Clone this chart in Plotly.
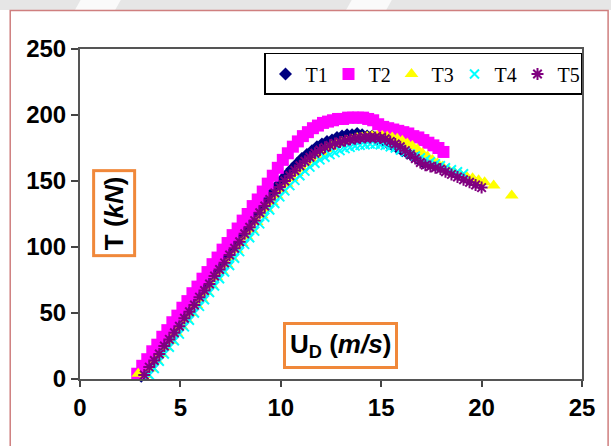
import plotly.graph_objects as go

# Tension T (kN) against velocity U_D (m/s) for five test runs
u_t1 = [3.05, 3.3, 3.55, 3.8, 4.05, 4.3, 4.55, 4.8, 5.05, 5.3, 5.55, 5.8, 6.05, 6.3, 6.55, 6.8,
        7.05, 7.3, 7.55, 7.8, 8.05, 8.3, 8.55, 8.8, 9.05, 9.3, 9.55, 9.8, 10.05, 10.3, 10.55, 10.8,
        11.05, 11.3, 11.55, 11.8, 12.05, 12.3, 12.55, 12.8, 13.05, 13.3, 13.55, 13.8, 14.05, 14.3,
        14.55, 14.8, 15.05, 15.3, 15.55, 15.8, 16.05, 16.3, 16.55, 16.8, 17.1]
t_t1 = [2, 8, 13, 18, 24, 29, 34, 40, 45, 51, 56, 61, 67, 72, 77, 83,
        88, 94, 99, 104, 110, 115, 120, 126, 131, 137, 141, 146, 151, 155, 159, 163,
        167, 170, 173, 176, 178, 180, 181, 183, 184, 185, 185, 186, 185, 184,
        184, 182, 181, 179, 177, 175, 173, 171, 169, 167, 164]

u_t2 = [2.85, 3.1, 3.35, 3.6, 3.85, 4.1, 4.35, 4.6, 4.85, 5.1, 5.35, 5.6, 5.85, 6.1, 6.35, 6.6,
        6.85, 7.1, 7.35, 7.6, 7.85, 8.1, 8.35, 8.6, 8.85, 9.1, 9.35, 9.6, 9.85, 10.1, 10.35, 10.6,
        10.85, 11.1, 11.35, 11.6, 11.85, 12.1, 12.35, 12.6, 12.85, 13.1, 13.35, 13.6, 13.85, 14.1,
        14.35, 14.6, 14.85, 15.1, 15.35, 15.6, 15.85, 16.1, 16.35, 16.6, 16.85, 17.1, 17.35, 17.6,
        17.85, 18.1]
t_t2 = [4, 10, 15, 21, 26, 32, 37, 43, 48, 54, 59, 65, 70, 76, 81, 87,
        92, 98, 103, 109, 114, 120, 125, 131, 136, 142, 148, 154, 160, 166, 171, 176,
        180, 184, 187, 190, 192, 194, 195, 196, 197, 197, 198, 198, 198, 198,
        197, 196, 193, 191, 190, 189, 188, 187, 186, 184, 183, 181, 179, 177,
        175, 172]

u_t3 = [2.9, 3.3, 3.55, 3.8, 4.05, 4.3, 4.55, 4.8, 5.05, 5.3, 5.55, 5.8, 6.05, 6.3, 6.55, 6.8,
        7.05, 7.3, 7.55, 7.8, 8.05, 8.3, 8.55, 8.8, 9.05, 9.3, 9.55, 9.8, 10.05, 10.3, 10.55, 10.8,
        11.05, 11.3, 11.55, 11.8, 12.05, 12.3, 12.55, 12.8, 13.05, 13.3, 13.55, 13.8, 14.05, 14.3,
        14.55, 14.8, 15.05, 15.3, 15.55, 15.8, 16.05, 16.3, 16.55, 16.8, 17.05, 17.3, 17.55, 17.8,
        18.05, 18.35, 18.65, 18.95, 19.25, 19.55, 19.85, 20.15, 20.6, 21.5]
t_t3 = [4, 3, 8, 14, 19, 24, 29, 35, 40, 45, 50, 56, 61, 66, 71, 77,
        82, 87, 92, 98, 103, 108, 113, 119, 124, 129, 134, 139, 143.5, 148, 152, 156,
        159.5, 163, 166, 169, 171.5, 174, 176, 178, 179.5, 180.5, 181.5, 182.5, 183, 183.5,
        184, 184, 184, 183.5, 183, 182, 180.5, 178.5, 176.5, 174, 171, 168.5, 166, 163.5,
        161, 158.5, 156.5, 155, 153.5, 152, 150.5, 149, 146.5, 139]

u_t4 = [3.45, 3.7, 3.95, 4.2, 4.45, 4.7, 4.95, 5.2, 5.45, 5.7, 5.95, 6.2, 6.45, 6.7, 6.95, 7.2,
        7.45, 7.7, 7.95, 8.2, 8.45, 8.7, 8.95, 9.2, 9.45, 9.7, 9.95, 10.2, 10.45, 10.7, 10.95, 11.2,
        11.45, 11.7, 11.95, 12.2, 12.45, 12.7, 12.95, 13.2, 13.45, 13.7, 13.95, 14.2, 14.45, 14.7,
        14.95, 15.2, 15.45, 15.7, 15.95, 16.2, 16.45, 16.7, 16.95, 17.2, 17.45, 17.7, 17.95, 18.2,
        18.5, 18.8, 19.1]
t_t4 = [3, 8, 13.5, 19, 24, 29, 34, 39.5, 44.5, 50, 55, 60, 65.5, 70.5, 76, 81,
        86, 91.5, 96.5, 102, 107, 112, 117.5, 122.5, 128, 133, 138, 142.5, 146.5, 150.5, 154, 157.5,
        160.5, 163.5, 166, 168, 170, 171.5, 173, 174.5, 175.5, 176.5, 177, 177.5, 178, 178,
        177.5, 177, 176, 175, 173.5, 172, 170.5, 169, 167.5, 166, 164.5, 163, 161.5, 160,
        158.5, 157, 155.5]

u_t5 = [3.2, 3.45, 3.7, 3.95, 4.2, 4.45, 4.7, 4.95, 5.2, 5.45, 5.7, 5.95, 6.2, 6.45, 6.7, 6.95,
        7.2, 7.45, 7.7, 7.95, 8.2, 8.45, 8.7, 8.95, 9.2, 9.45, 9.7, 9.95, 10.2, 10.45, 10.7, 10.95,
        11.2, 11.45, 11.7, 11.95, 12.2, 12.45, 12.7, 12.95, 13.2, 13.45, 13.7, 13.95, 14.2, 14.45,
        14.7, 14.95, 15.2, 15.45, 15.7, 15.95, 16.2, 16.45, 16.7, 16.95, 17.2, 17.45, 17.7, 17.95,
        18.2, 18.5, 18.8, 19.1, 19.4, 19.7, 20.0]
t_t5 = [3, 9, 14, 19, 25, 30, 35, 40, 46, 51, 56, 62, 67, 72, 78, 83,
        88, 94, 99, 104, 110, 115, 120, 126, 131, 136, 141, 145.5, 150, 154, 158, 161.5,
        165, 168, 171, 173.5, 175.5, 177, 178.5, 179.5, 180.5, 181.5, 182, 182.5, 183, 183,
        183, 182.5, 182, 180, 178, 176, 173, 170, 167, 164, 162, 161, 160, 159,
        157, 155, 153, 151, 149, 147, 145]

series_names = ["T1", "T2", "T3", "T4", "T5"]
x_ticks = [0, 5, 10, 15, 20, 25]
y_ticks = [0, 50, 100, 150, 200, 250]

styles = {
    "T1": dict(symbol="diamond", color="#000080", size=10),
    "T2": dict(symbol="square", color="#FF00FF", size=12),
    "T3": dict(symbol="triangle-up", color="#FFFF00", size=12),
    "T4": dict(symbol="x-thin-open", color="#00FFFF", size=9, line=dict(color="#00FFFF", width=2)),
    "T5": dict(symbol="asterisk-open", color="#800080", size=10, line=dict(color="#800080", width=2)),
}
data = {
    "T1": (u_t1, t_t1),
    "T2": (u_t2, t_t2),
    "T3": (u_t3, t_t3),
    "T4": (u_t4, t_t4),
    "T5": (u_t5, t_t5),
}

fig = go.Figure()
for name in series_names:
    u, t = data[name]
    fig.add_trace(go.Scatter(x=u, y=t, mode="markers", name=name, marker=styles[name],
                             cliponaxis=False))

axis_font = dict(family="Liberation Sans, Arial, sans-serif", size=24, color="#000000", weight="bold")
title_font = dict(family="Liberation Sans, Arial, sans-serif", size=26, color="#000000", weight="bold")

fig.update_layout(
    width=611, height=446, autosize=False,
    margin=dict(l=80, r=29, t=49, b=67, pad=0),
    paper_bgcolor="#FFFFFF", plot_bgcolor="#FFFFFF",
    showlegend=True,
    legend=dict(orientation="h", x=1, xanchor="right", y=0.988, yanchor="top",
                bgcolor="#FFFFFF", bordercolor="#000000", borderwidth=1.5,
                entrywidth=18, entrywidthmode="pixels",
                font=dict(family="Liberation Serif, Times New Roman, serif", size=20, color="#000000"),
                itemclick=False, tracegroupgap=0),
    xaxis=dict(range=[0, 25], tickvals=x_ticks, ticks="outside", ticklen=6, tickwidth=2,
               tickcolor="#444444", showline=True, linecolor="#555555", linewidth=2, mirror=True,
               showgrid=False, zeroline=False, tickfont=axis_font, fixedrange=True),
    yaxis=dict(range=[0, 250], tickvals=y_ticks, ticks="outside", ticklen=7, tickwidth=2,
               tickcolor="#444444", showline=True, linecolor="#555555", linewidth=2, mirror=True,
               showgrid=False, zeroline=False, tickfont=axis_font, fixedrange=True),
    annotations=[
        dict(text="T (<i>kN</i>)", xref="paper", yref="paper", x=0.068, y=0.503,
             xanchor="center", yanchor="middle", textangle=-90, showarrow=False,
             font=title_font, bgcolor="#FFFFFF", bordercolor="#F0883A", borderwidth=3, borderpad=4),
        dict(text="U<sub>D</sub> (<i>m/s</i>)", xref="paper", yref="paper", x=0.519, y=0.103,
             xanchor="center", yanchor="middle", showarrow=False,
             font=title_font, bgcolor="#FFFFFF", bordercolor="#F0883A", borderwidth=3, borderpad=4),
    ],
    shapes=[
        # light grey band along the top edge of the slide
        dict(type="rect", xref="paper", yref="paper", x0=-0.2, x1=1.1, y0=1.118, y1=1.2,
             fillcolor="#E6E6E6", line=dict(width=0), layer="below"),
        dict(type="path", xref="paper", yref="paper",
             path="M 0.02 1.2 L 0.1 1.2 L 0.07 1.118 L -0.01 1.118 Z",
             fillcolor="#FAFAFA", line=dict(width=0), layer="below"),
        dict(type="path", xref="paper", yref="paper",
             path="M 0.56 1.2 L 0.64 1.2 L 0.61 1.118 L 0.53 1.118 Z",
             fillcolor="#FAFAFA", line=dict(width=0), layer="below"),
        # slide frame around the chart
        dict(type="rect", xref="paper", yref="paper", x0=-0.139, x1=1.052, y0=-0.3, y1=1.117,
             fillcolor="rgba(0,0,0,0)", line=dict(color="#CF7F7F", width=1.5), layer="below"),
    ],
)

fig.write_html("out.html")
